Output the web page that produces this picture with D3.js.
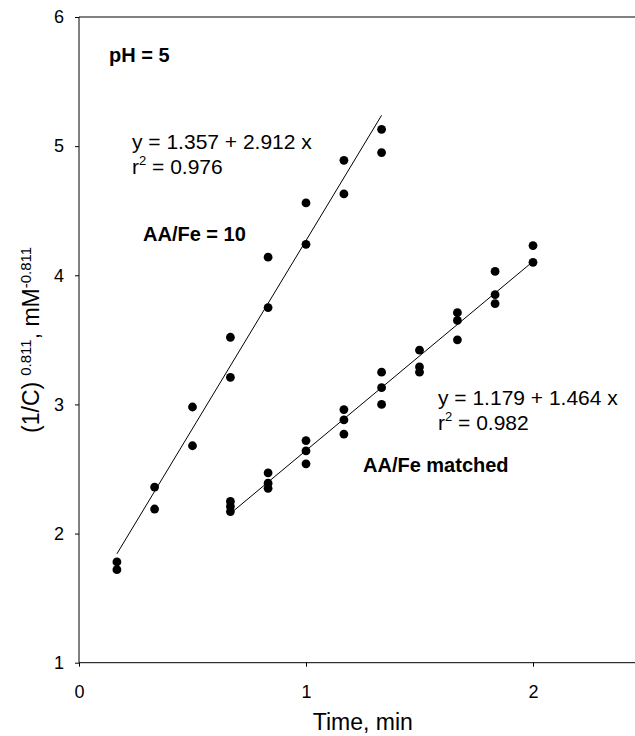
<!DOCTYPE html>
<html>
<head>
<meta charset="utf-8">
<script src="https://cdn.jsdelivr.net/npm/d3@7/dist/d3.min.js"></script>
<style>
	body { margin: 0; background: #fff; }
	svg { display: block; }
	text { font-family: "Liberation Sans", Arial, Helvetica, sans-serif; fill: #000; }
	.axis path, .axis line { stroke: #000; }
	.fit { fill: none; stroke: #000; stroke-width: 1; }
</style>
</head>
<body>
<div id="chart"></div>
<script>
// AA/Fe = 10 series, two replicate readings per time
var timeHigh = [0.167, 0.167, 0.333, 0.333, 0.5, 0.5, 0.667, 0.667, 0.833, 0.833, 1.0, 1.0, 1.167, 1.167, 1.333, 1.333];
var valueHigh = [1.78, 1.72, 2.36, 2.19, 2.98, 2.68, 3.52, 3.21, 4.14, 3.75, 4.56, 4.24, 4.89, 4.63, 5.13, 4.95];

// AA/Fe matched series, three readings per time
var timeMatched = [0.667, 0.667, 0.667, 0.833, 0.833, 0.833, 1.0, 1.0, 1.0, 1.167, 1.167, 1.167,
	1.333, 1.333, 1.333, 1.5, 1.5, 1.5, 1.667, 1.667, 1.667, 1.833, 1.833, 1.833, 2.0, 2.0];
var valueMatched = [2.25, 2.21, 2.17, 2.47, 2.39, 2.35, 2.72, 2.64, 2.54, 2.96, 2.88, 2.77,
	3.25, 3.13, 3.00, 3.42, 3.29, 3.25, 3.71, 3.65, 3.50, 4.03, 3.85, 3.78, 4.23, 4.10];

// regression lines: [intercept, slope, xstart, xend]
var fitHigh = [1.357, 2.912, 0.167, 1.333];
var fitMatched = [1.179, 1.464, 0.667, 2.0];

var xTicks = [0, 1, 2];
var yTicks = [1, 2, 3, 4, 5, 6];

var width = 635,
	height = 736;

var margin = { top: 17, left: 79, bottom: 73.3 };
var plotRight = 646.5; // the frame runs past the right edge of the picture

var svg = d3.select("#chart").append("svg")
	.attr("width", width)
	.attr("height", height);

var xScale = d3.scaleLinear().domain([0, 2.5]).range([margin.left, plotRight]);
var yScale = d3.scaleLinear().domain([1, 6]).range([height - margin.bottom, margin.top]);

// top border of the frame
svg.append("line")
	.attr("x1", xScale(0)).attr("x2", xScale(2.5))
	.attr("y1", yScale(6)).attr("y2", yScale(6))
	.attr("stroke", "#000");

var xAxis = d3.axisBottom(xScale).tickValues(xTicks).tickFormat(d3.format("d")).tickSize(4).tickSizeOuter(0);
var yAxis = d3.axisLeft(yScale).tickValues(yTicks).tickFormat(d3.format("d")).tickSize(4).tickSizeOuter(0);

var gx = svg.append("g")
	.attr("class", "x axis")
	.attr("transform", "translate(0," + yScale(1) + ")")
	.call(xAxis);
gx.selectAll("text").attr("font-size", 18).attr("dy", null).attr("y", 35);
gx.select(".domain").attr("d", "M" + xScale(0) + ",0H" + xScale(2.5));

var gy = svg.append("g")
	.attr("class", "y axis")
	.attr("transform", "translate(" + xScale(0) + ",0)")
	.call(yAxis);
gy.selectAll("text").attr("font-size", 18).attr("x", -15);
gy.select(".domain").attr("d", "M0," + yScale(1) + "V" + yScale(6));

svg.selectAll(".axis text").style("font-family", "'Liberation Sans', Arial, sans-serif");

// axis titles
svg.append("text")
	.attr("x", (xScale(0) + xScale(2.5)) / 2)
	.attr("y", 730)
	.attr("text-anchor", "middle")
	.attr("font-size", 23)
	.text("Time, min");

var ytitle = svg.append("text")
	.attr("transform", "translate(39," + ((yScale(1) + yScale(6)) / 2) + ") rotate(-90)")
	.attr("text-anchor", "middle")
	.attr("font-size", 23);
ytitle.append("tspan").text("(1/C)");
ytitle.append("tspan").attr("font-size", 15).attr("dy", -8).attr("dx", 6).text("0.811");
ytitle.append("tspan").attr("dy", 8).text(", mM");
ytitle.append("tspan").attr("font-size", 15).attr("dy", -8).text("-0.811");

// fitted lines
var line = d3.line()
	.x(function(d) { return xScale(d[0]); })
	.y(function(d) { return yScale(d[1]); });

[fitHigh, fitMatched].forEach(function(f) {
	svg.append("path")
		.attr("class", "fit")
		.attr("d", line([
			[f[2], f[0] + f[1] * f[2]],
			[f[3], f[0] + f[1] * f[3]]
		]));
});

// points
function drawPoints(xs, ys) {
	svg.append("g").selectAll("circle")
		.data(xs)
		.enter()
		.append("circle")
		.attr("cx", function(d) { return xScale(d); })
		.attr("cy", function(d, i) { return yScale(ys[i]); })
		.attr("r", 4.4)
		.attr("fill", "#000");
}
drawPoints(timeHigh, valueHigh);
drawPoints(timeMatched, valueMatched);

// annotations
svg.append("text")
	.attr("x", 109).attr("y", 62)
	.attr("font-size", 20).attr("font-weight", "bold")
	.text("pH = 5");

function equation(x, y, eq, r2) {
	svg.append("text")
		.attr("x", x).attr("y", y)
		.attr("font-size", 21)
		.text(eq);
	var t = svg.append("text")
		.attr("x", x).attr("y", y + 25)
		.attr("font-size", 21);
	t.append("tspan").text("r");
	t.append("tspan").attr("font-size", 13).attr("dy", -9).text("2");
	t.append("tspan").attr("dy", 9).text(" = " + r2);
}
equation(132, 149, "y = 1.357 + 2.912 x", "0.976");
equation(438, 405, "y = 1.179 + 1.464 x", "0.982");

svg.append("text")
	.attr("x", 143).attr("y", 241)
	.attr("font-size", 20).attr("font-weight", "bold")
	.text("AA/Fe = 10");

svg.append("text")
	.attr("x", 363).attr("y", 472)
	.attr("font-size", 20).attr("font-weight", "bold")
	.text("AA/Fe matched");
</script>
</body>
</html>
